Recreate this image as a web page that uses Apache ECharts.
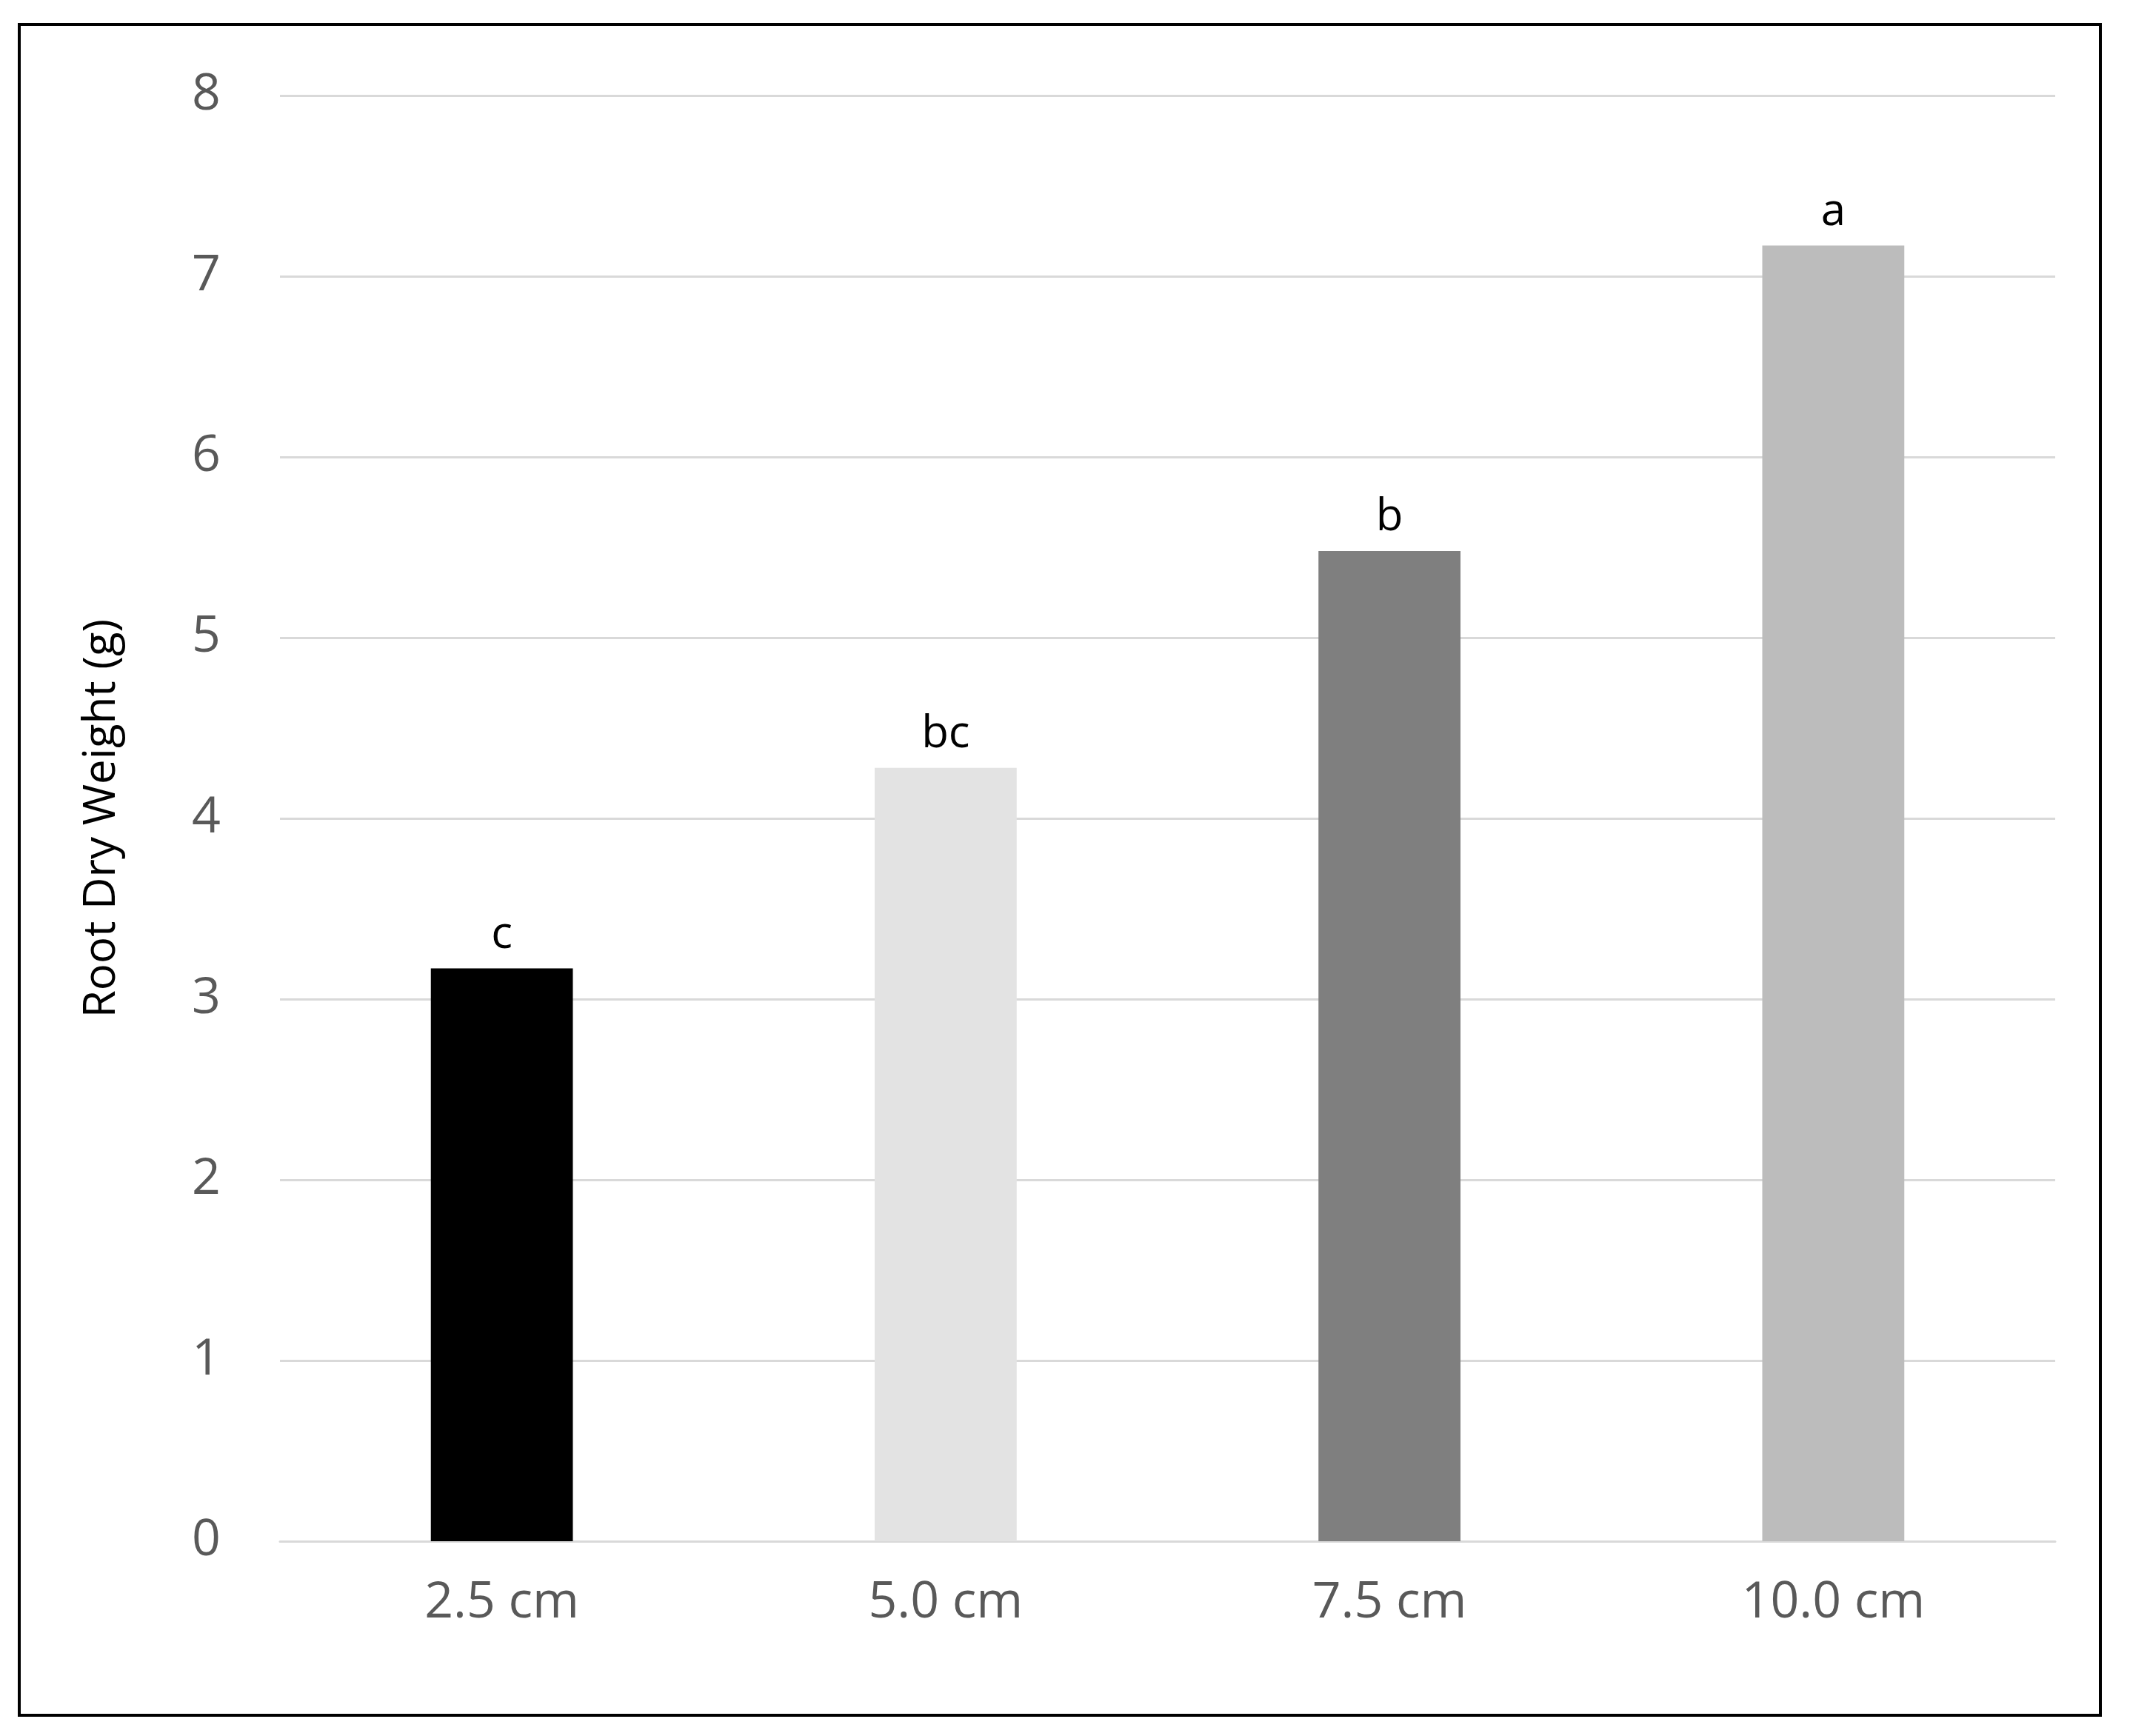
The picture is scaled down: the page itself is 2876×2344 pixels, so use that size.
<!DOCTYPE html>
<html><head><meta charset="utf-8">
<script src="https://cdn.jsdelivr.net/npm/echarts@6/dist/echarts.min.js"></script>
<style>html,body{margin:0;padding:0;background:#fff}
#box{position:absolute;left:24px;top:31px;width:2806px;height:2279px;border:4px solid #000;}
#c{position:absolute;left:0;top:0;width:2876px;height:2344px}</style></head>
<body><div id="box"></div><div id="c"></div>
<script>
const categories = ['2.5 cm','5.0 cm','7.5 cm','10.0 cm'];
const values = [3.17, 4.28, 5.48, 7.17];
const letters = ['c','bc','b','a'];
const colors = ['#000000','#e3e3e3','#7f7f7f','#bcbcbc'];
const chart = echarts.init(document.getElementById('c'));
chart.setOption({
  animation:false,
  grid:{left:378,right:101,top:129,bottom:263},
  xAxis:{type:'category',data:categories,
    axisLine:{lineStyle:{color:'#d9d9d9',width:3}},axisTick:{show:false},
    axisLabel:{color:'#595959',fontSize:68,fontFamily:'Open Sans, DejaVu Sans',margin:50}},
  yAxis:{type:'value',min:0,max:8,interval:1,
    name:'Root Dry Weight (g)',nameLocation:'middle',nameGap:210,
    nameTextStyle:{color:'#000',fontSize:60,fontFamily:'Open Sans, DejaVu Sans'},
    axisLine:{show:false},axisTick:{show:false},
    splitLine:{lineStyle:{color:'#d9d9d9',width:3}},
    axisLabel:{color:'#595959',fontSize:68,fontFamily:'Open Sans, DejaVu Sans',margin:80}},
  series:[{type:'bar',barWidth:'32%',
    data:values.map((v,i)=>({value:v,itemStyle:{color:colors[i]},
      label:{show:true,position:'top',formatter:letters[i],color:'#000',fontSize:60,distance:15,fontFamily:'Open Sans, DejaVu Sans'}}))}]
});
</script></body></html>
